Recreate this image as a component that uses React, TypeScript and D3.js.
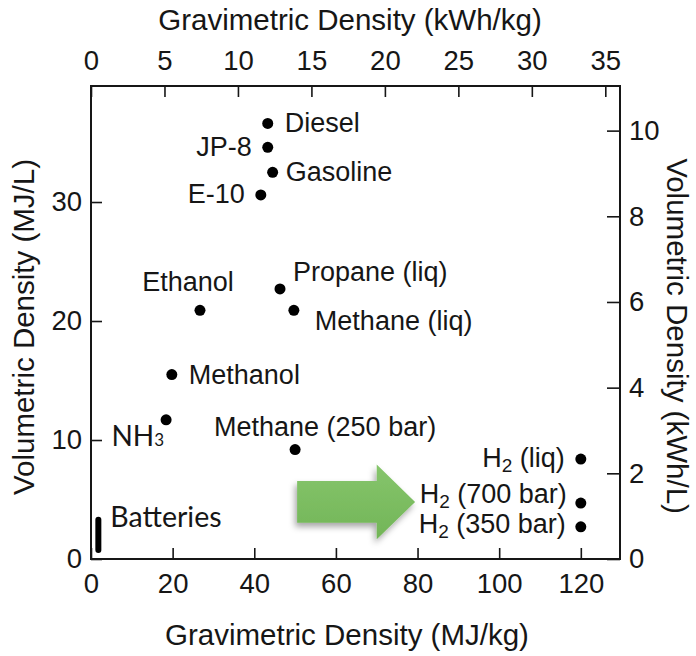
import { useEffect, useRef } from 'react'
import * as d3 from 'd3'

// fuels (MJ/kg, MJ/L)
const fuels = [
  'Diesel',
  'JP-8',
  'Gasoline',
  'E-10',
  'Ethanol',
  'Propane (liq)',
  'Methane (liq)',
  'Methanol',
  'NH3',
  'Methane (250 bar)',
  'H2 (liq)',
  'H2 (700 bar)',
  'H2 (350 bar)',
]
const gravimetric = [43.3, 43.3, 44.5, 41.6, 26.7, 46.3, 49.7, 19.8, 18.4, 50.0, 120, 120, 120]
const volumetric = [36.6, 34.6, 32.5, 30.6, 20.9, 22.7, 20.9, 15.5, 11.7, 9.2, 8.4, 4.7, 2.7]

// batteries drawn as a short vertical range
const batteryGravimetric = 1.8
const batteryVolumetric = [0.75, 3.3]

const mjPerKgTicks = [0, 20, 40, 60, 80, 100, 120]
const kwhPerKgTicks = [0, 5, 10, 15, 20, 25, 30, 35]
const mjPerLTicks = [0, 10, 20, 30]
const kwhPerLTicks = [0, 2, 4, 6, 8, 10]

// green arrow pointing at the compressed H2 points (data units)
const arrowStart = [50.5, 4.8]
const arrowTip = [79.4, 4.8]

const MJ_PER_KWH = 3.6

// label placement next to each dot (px)
const labelPos: Record<string, { dx: number; dy: number; anchor: string; calibri?: boolean }> = {
  Diesel: { dx: 17, dy: 0, anchor: 'start' },
  'JP-8': { dx: -16, dy: 0, anchor: 'end' },
  Gasoline: { dx: 13, dy: 0, anchor: 'start' },
  'E-10': { dx: -16, dy: -1, anchor: 'end' },
  Ethanol: { dx: -12, dy: -28, anchor: 'middle' },
  'Propane (liq)': { dx: 13, dy: -17, anchor: 'start' },
  'Methane (liq)': { dx: 21, dy: 11, anchor: 'start' },
  Methanol: { dx: 17, dy: 0, anchor: 'start' },
  NH3: { dx: -2, dy: 15, anchor: 'end', calibri: true },
  'Methane (250 bar)': { dx: 30, dy: -23, anchor: 'middle' },
  'H2 (liq)': { dx: -16, dy: -1, anchor: 'end' },
  'H2 (700 bar)': { dx: -14, dy: -9, anchor: 'end' },
  'H2 (350 bar)': { dx: -15, dy: -3, anchor: 'end' },
}

const ARIAL = "'Liberation Sans', Arial, Helvetica, sans-serif"
const CALIBRI = "Lato, 'Open Sans', sans-serif"
const INK = '#161616'

export default function App() {
  const ref = useRef<SVGSVGElement | null>(null)

  useEffect(() => {
    if (!ref.current) return
    const width = 696
    const height = 656
    const left = 91
    const right = 620
    const top = 86
    const bottom = 559

    const svg = d3.select(ref.current)
    svg.selectAll('*').remove()

    const x = d3.scaleLinear().domain([0, 129.6]).range([left, right])
    const y = d3.scaleLinear().domain([0, 39.75]).range([bottom, top])
    const x2 = d3.scaleLinear().domain([0, 129.6 / MJ_PER_KWH]).range([left, right])
    const y2 = d3.scaleLinear().domain([0, 39.75 / MJ_PER_KWH]).range([bottom, top])

    svg.append('rect').attr('width', width).attr('height', height).attr('fill', '#fff')

    const defs = svg.append('defs')
    const shadow = defs.append('filter').attr('id', 'arrow-shadow').attr('x', '-20%').attr('y', '-20%').attr('width', '140%').attr('height', '150%')
    shadow.append('feDropShadow').attr('dx', -2).attr('dy', 4).attr('stdDeviation', 3).attr('flood-color', '#000').attr('flood-opacity', 0.35)
    const grad = defs.append('linearGradient').attr('id', 'arrow-fill').attr('x1', 0).attr('y1', 0).attr('x2', 0).attr('y2', 1)
    grad.append('stop').attr('offset', '0%').attr('stop-color', '#86c56c')
    grad.append('stop').attr('offset', '100%').attr('stop-color', '#72b557')

    const styleAxis = (g: d3.Selection<SVGGElement, unknown, null, undefined>) => {
      g.select('.domain').remove()
      g.selectAll('.tick line').attr('stroke', INK).attr('stroke-width', 1.6)
      g.selectAll('.tick text')
        .attr('fill', INK)
        .attr('font-family', ARIAL)
        .attr('font-size', 27.5)
    }

    svg.append('g')
      .attr('transform', `translate(0,${bottom})`)
      .call(d3.axisBottom(x).tickValues(mjPerKgTicks).tickSizeInner(-11).tickSizeOuter(0).tickPadding(14))
      .call(styleAxis)

    svg.append('g')
      .attr('transform', `translate(0,${top})`)
      .call(d3.axisTop(x2).tickValues(kwhPerKgTicks).tickSizeInner(-11).tickSizeOuter(0).tickPadding(16))
      .call(styleAxis)

    svg.append('g')
      .attr('transform', `translate(${left},0)`)
      .call(d3.axisLeft(y).tickValues(mjPerLTicks).tickSizeInner(-11).tickSizeOuter(0).tickPadding(9))
      .call(styleAxis)

    svg.append('g')
      .attr('transform', `translate(${right},0)`)
      .call(d3.axisRight(y2).tickValues(kwhPerLTicks).tickSizeInner(-13).tickSizeOuter(0).tickPadding(9))
      .call(styleAxis)

    // frame
    svg.append('rect')
      .attr('x', left)
      .attr('y', top)
      .attr('width', right - left)
      .attr('height', bottom - top)
      .attr('fill', 'none')
      .attr('stroke', INK)
      .attr('stroke-width', 2)

    // axis titles
    const title = (t: string, tx: number, ty: number, rot: number) =>
      svg.append('text')
        .attr('transform', `translate(${tx},${ty}) rotate(${rot})`)
        .attr('text-anchor', 'middle')
        .attr('dominant-baseline', 'central')
        .attr('fill', INK)
        .attr('font-family', ARIAL)
        .attr('font-size', 29.5)
        .text(t)

    title('Gravimetric Density (kWh/kg)', 350, 19, 0)
    title('Gravimetric Density (MJ/kg)', 347, 634, 0)
    title('Volumetric Density (MJ/L)', 23, 327, -90)
    title('Volumetric Density (kWh/L)', 677, 336, 90)

    // green arrow
    const ax0 = x(arrowStart[0])
    const ax1 = x(arrowTip[0])
    const ay = y(arrowTip[1])
    const bodyHalf = y(arrowTip[1] - 1.75) - ay
    const headHalf = y(arrowTip[1] - 3.15) - ay
    const headLen = x(arrowTip[0]) - x(arrowTip[0] - 9.4)
    const arrow = d3.path()
    arrow.moveTo(ax0, ay - bodyHalf)
    arrow.lineTo(ax1 - headLen, ay - bodyHalf)
    arrow.lineTo(ax1 - headLen, ay - headHalf)
    arrow.lineTo(ax1, ay)
    arrow.lineTo(ax1 - headLen, ay + headHalf)
    arrow.lineTo(ax1 - headLen, ay + bodyHalf)
    arrow.lineTo(ax0, ay + bodyHalf)
    arrow.closePath()
    svg.append('path')
      .attr('d', arrow.toString())
      .attr('fill', 'url(#arrow-fill)')
      .attr('filter', 'url(#arrow-shadow)')

    // batteries range
    svg.append('line')
      .attr('x1', x(batteryGravimetric))
      .attr('x2', x(batteryGravimetric))
      .attr('y1', y(batteryVolumetric[0]))
      .attr('y2', y(batteryVolumetric[1]))
      .attr('stroke', '#000')
      .attr('stroke-width', 6)
      .attr('stroke-linecap', 'round')

    svg.append('text')
      .attr('x', x(batteryGravimetric) + 12)
      .attr('y', y(batteryVolumetric[1]) - 4)
      .attr('dominant-baseline', 'central')
      .attr('fill', INK)
      .attr('font-family', CALIBRI)
      .attr('font-size', 28.5)
      .text('Batteries')

    const points = fuels.map((name, i) => ({ name, g: gravimetric[i], v: volumetric[i] }))

    svg.selectAll('.dot')
      .data(points)
      .enter()
      .append('circle')
      .attr('class', 'dot')
      .attr('cx', (d) => x(d.g))
      .attr('cy', (d) => y(d.v))
      .attr('r', 5.5)
      .attr('fill', '#000')

    points.forEach((d) => {
      const p = labelPos[d.name]
      const t = svg.append('text')
        .attr('x', x(d.g) + p.dx)
        .attr('y', y(d.v) + p.dy)
        .attr('text-anchor', p.anchor)
        .attr('dominant-baseline', 'central')
        .attr('fill', INK)
        .attr('font-family', p.calibri ? CALIBRI : ARIAL)
        .attr('font-size', p.calibri ? 28 : 27)
      if (d.name.startsWith('H2')) {
        t.append('tspan').text('H')
        t.append('tspan').attr('font-size', 19).attr('dy', 7).text('2')
        t.append('tspan').attr('dy', -7).text(d.name.slice(2))
      } else if (d.name === 'NH3') {
        t.append('tspan').text('NH')
        t.append('tspan').attr('font-size', 17).attr('dy', 4).text('3')
      } else {
        t.text(d.name)
      }
    })
  }, [])

  return (
    <svg
      ref={ref}
      width={696}
      height={656}
      viewBox="0 0 696 656"
      style={{ position: 'absolute', left: 0, top: 0 }}
      role="img"
      aria-label="Gravimetric vs volumetric energy density"
    />
  )
}
